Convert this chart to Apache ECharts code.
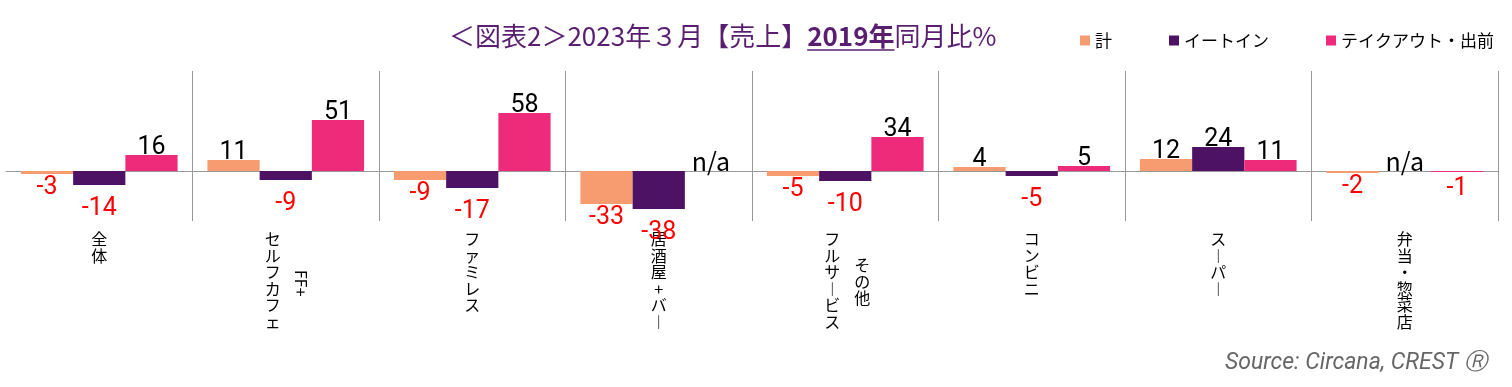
<!DOCTYPE html>
<html>
<head>
<meta charset="utf-8">
<script src="https://cdn.jsdelivr.net/npm/echarts@6/dist/echarts.min.js"></script>
<style>
html,body{margin:0;padding:0;background:#fff;}
#chart{width:1512px;height:387px;}
</style>
</head>
<body>
<div id="chart"></div>
<script>
// ---- data ----
const categories = ['全体', 'セルフカフェ', 'ファミレス', '居酒屋+バー', 'フルサービス', 'コンビニ', 'スーパー', '弁当・惣菜店'];
const categorySubs = ['', 'FF+', '', '', 'その他', '', '', ''];
const seriesNames = ['計', 'イートイン', 'テイクアウト・出前'];
const totalValues = [-3, 11, -9, -33, -5, 4, 12, -2];
const eatInValues = [-14, -9, -17, -38, -10, -5, 24, null];
const takeoutValues = [16, 51, 58, null, 34, 5, 11, -1];
const titleParts = ['＜図表2＞2023年３月【売上】', '2019年', '同月比%'];
const sourceText = 'Source: Circana, CREST Ⓡ';

// ---- styles ----
const colors = ['#F79B70', '#4E1265', '#EE2A7B'];
const titleColor = '#5A1E70';
const jp = "'Noto Sans CJK JP', 'Noto Sans', sans-serif";
const narrow = "'Liberation Sans Narrow', 'Roboto', sans-serif";
const negDistance = [1, 11, 4];
const titleSize = 26;
const titleCenterX = 723;

const chart = echarts.init(document.getElementById('chart'));

function stack(text, tag) {
  return Array.from(text).map(c => {
    const ch = c === 'ー' ? '︱' : c;
    return tag ? '{' + tag + '|' + ch + '}' : ch;
  }).join('\n');
}
const isLatin = s => /^[\x00-\x7F]+$/.test(s);

function buildData(values, si) {
  return values.map(v => {
    if (v === null) {
      return { value: 0, label: { position: 'top', distance: -3, formatter: 'n/a', color: '#000', fontFamily: jp, fontSize: 25 } };
    }
    const neg = v < 0;
    return {
      value: v,
      label: {
        position: neg ? 'bottom' : 'top',
        distance: neg ? negDistance[si] : -5,
        color: neg ? '#FF0000' : '#000000'
      }
    };
  });
}

const allValues = [totalValues, eatInValues, takeoutValues];
const series = allValues.map((vals, i) => ({
  name: seriesNames[i],
  type: 'bar',
  xAxisIndex: 0,
  yAxisIndex: 0,
  barGap: '0%',
  barCategoryGap: '16%',
  itemStyle: { color: colors[i] },
  label: { show: true, fontFamily: narrow, fontSize: 25, formatter: '{c}' },
  data: buildData(vals, i)
}));

const catLabelBase = { fontFamily: jp, fontSize: 16, lineHeight: 16.5, color: '#000' };

// measure title parts to place it and its underline
const cv = document.createElement('canvas').getContext('2d');
function tw(t, f) { cv.font = f; return cv.measureText(t).width; }
const wA = tw(titleParts[0], 'normal ' + titleSize + 'px ' + jp);
const wB = tw(titleParts[1], 'bold ' + titleSize + 'px ' + jp);
const wC = tw(titleParts[2], 'normal ' + titleSize + 'px ' + jp);
const tLeft = Math.round(titleCenterX - (wA + wB + wC) / 2);
const uY = 50;

const option = {
  animation: false,
  title: {
    left: tLeft,
    top: 21,
    padding: 0,
    text: '{a|' + titleParts[0] + '}{b|' + titleParts[1] + '}{a|' + titleParts[2] + '}',
    textStyle: {
      fontWeight: 'normal',
      rich: {
        a: { fontFamily: jp, fontSize: titleSize, fontWeight: 'normal', color: titleColor, lineHeight: 30 },
        b: { fontFamily: jp, fontSize: titleSize, fontWeight: 'bold', color: titleColor, lineHeight: 30 }
      }
    }
  },
  legend: {
    right: 13,
    top: 27,
    itemWidth: 10,
    itemHeight: 10,
    itemGap: 57,
    icon: 'rect',
    textStyle: { fontFamily: jp, fontSize: 17, color: '#000' },
    data: seriesNames
  },
  grid: { left: 6, right: 14, top: 71, bottom: 166 },
  xAxis: [
    {
      type: 'category',
      data: categories,
      axisLine: { show: true, onZero: true, lineStyle: { color: '#999', width: 1 } },
      axisTick: { show: false },
      axisLabel: { show: false },
      splitLine: { show: true, showMinLine: false, interval: 0, lineStyle: { color: '#999', width: 1 } }
    },
    {
      type: 'category',
      data: categories,
      position: 'bottom',
      axisLine: { show: false, onZero: false },
      axisTick: { show: false },
      splitLine: { show: false },
      axisLabel: Object.assign({}, catLabelBase, {
        interval: 0,
        margin: 10,
        verticalAlign: 'top',
        formatter: (v, idx) => stack(v, categorySubs[idx] ? 's' : 'n'),
        rich: {
          n: Object.assign({}, catLabelBase),
          s: Object.assign({}, catLabelBase, { padding: [0, 26, 0, 0] })
        }
      })
    },
    {
      type: 'category',
      data: categories,
      position: 'bottom',
      axisLine: { show: false, onZero: false },
      axisTick: { show: false },
      splitLine: { show: false },
      axisLabel: Object.assign({}, catLabelBase, {
        interval: 0,
        margin: 36,
        verticalAlign: 'top',
        formatter: (v, idx) => (categorySubs[idx] && !isLatin(categorySubs[idx])) ? stack(categorySubs[idx], 'n') : '',
        rich: { n: Object.assign({}, catLabelBase, { padding: [0, 0, 0, 34] }) }
      })
    },
    {
      type: 'category',
      data: categories,
      position: 'bottom',
      axisLine: { show: false, onZero: false },
      axisTick: { show: false },
      splitLine: { show: false },
      axisLabel: Object.assign({}, catLabelBase, {
        interval: 0,
        margin: 49,
        rotate: -90,
        formatter: (v, idx) => (categorySubs[idx] && isLatin(categorySubs[idx])) ? '{r|' + categorySubs[idx] + '}' : '',
        rich: { r: Object.assign({}, catLabelBase, { lineHeight: 16, padding: [0, 0, 30, 0] }) }
      })
    }
  ],
  yAxis: {
    type: 'value',
    min: -50,
    max: 100,
    show: false,
    splitLine: { show: false }
  },
  series: series,
  graphic: [
    {
      type: 'line',
      shape: { x1: tLeft + wA, y1: uY, x2: tLeft + wA + wB, y2: uY },
      style: { stroke: titleColor, lineWidth: 1.5 }
    },
    {
      type: 'text',
      right: 25,
      bottom: 12,
      style: { text: sourceText, fill: '#666', font: 'italic 23px ' + narrow }
    }
  ]
};

chart.setOption(option);
</script>
</body>
</html>
